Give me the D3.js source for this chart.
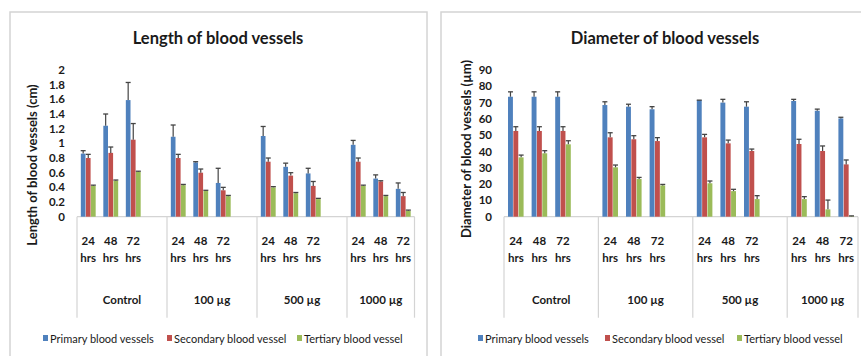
<!DOCTYPE html>
<html><head><meta charset="utf-8">
<script src="https://cdn.jsdelivr.net/npm/d3@7"></script>
<style>body{margin:0;background:#fff}svg{display:block}text{font-family:Lato,"Noto Sans",sans-serif;fill:#1a1a1a}</style>
</head><body><svg id="c" width="861" height="356"></svg>
<script>
const groups = ["Control", "100 µg", "500 µg", "1000 µg"];
const times = ["24", "48", "72"];
const series = ["Primary blood vessels", "Secondary blood vessel", "Tertiary blood vessel"];
const colors = ["#4F81BD", "#C0504D", "#9BBB59"];

const lengthTicks = [0, 0.2, 0.4, 0.6, 0.8, 1, 1.2, 1.4, 1.6, 1.8, 2];
const lengthPrimary   = [0.86, 1.24, 1.59, 1.09, 0.74, 0.46, 1.10, 0.68, 0.59, 0.98, 0.52, 0.38];
const lengthPrimaryErr= [0.04, 0.16, 0.24, 0.16, 0.01, 0.20, 0.13, 0.05, 0.07, 0.06, 0.05, 0.08];
const lengthSecondary = [0.80, 0.87, 1.05, 0.80, 0.60, 0.36, 0.75, 0.56, 0.42, 0.75, 0.48, 0.28];
const lengthSecondaryErr=[0.05, 0.08, 0.22, 0.05, 0.05, 0.04, 0.05, 0.04, 0.06, 0.05, 0.01, 0.05];
const lengthTertiary  = [0.42, 0.49, 0.61, 0.43, 0.35, 0.28, 0.40, 0.32, 0.24, 0.42, 0.28, 0.08];
const lengthTertiaryErr=[0.01, 0.01, 0.01, 0.01, 0.01, 0.01, 0.01, 0.01, 0.01, 0.01, 0.01, 0.01];

const diamTicks = [0, 10, 20, 30, 40, 50, 60, 70, 80, 90];
const diamPrimary   = [73.6, 73.6, 73.6, 68.5, 67.5, 65.9, 71.5, 70.0, 67.5, 71.0, 65.0, 60.3];
const diamPrimaryErr= [3.0, 3.0, 3.0, 2.0, 1.5, 1.6, 0.0, 2.0, 3.0, 1.0, 1.0, 0.7];
const diamSecondary = [52.6, 52.6, 52.6, 48.7, 47.5, 46.4, 48.7, 45.0, 40.3, 44.6, 40.3, 32.1];
const diamSecondaryErr=[2.6, 2.6, 2.6, 2.8, 2.2, 2.1, 1.8, 2.0, 1.2, 2.9, 3.1, 2.7];
const diamTertiary  = [36.4, 38.9, 44.4, 30.3, 23.1, 19.2, 20.5, 15.7, 10.8, 10.8, 4.5, 0.3];
const diamTertiaryErr=[1.4, 1.6, 2.2, 1.4, 1.0, 0.6, 1.4, 1.1, 2.1, 1.5, 5.7, 0.2];

const svg = d3.select("#c");

function drawChart(cfg) {
  const g = svg.append("g");
  // panel border
  g.append("rect").attr("x", cfg.panel[0]).attr("y", cfg.panel[1]).attr("width", cfg.panel[2]).attr("height", cfg.panel[3])
    .attr("fill", "#fff").attr("stroke", "#d4d4d4").attr("stroke-width", 1.5);
  g.append("text").attr("x", cfg.titleX).attr("y", 44).attr("text-anchor", "middle")
    .style("font-size", "16.5px").style("font-weight", "bold").text(cfg.title);

  // slots: each group has 3 time slots + one blank slot (except the last)
  const slots = [];
  groups.forEach((gr, gi) => {
    times.forEach((t, ti) => slots.push({id: gi + "-" + t, group: gi, time: t, idx: gi * 3 + ti}));
    if (gi < groups.length - 1) slots.push({id: gi + "-blank", group: gi, blank: true});
  });
  const x = d3.scaleBand().domain(slots.map(s => s.id)).range([cfg.x0, cfg.x1]).padding(0);
  const y = d3.scaleLinear().domain([0, d3.max(cfg.ticks)]).range([216.7, 70]);
  const inner = d3.scaleBand().domain(series).range([0, x.bandwidth() * 0.66]).paddingInner(0.08);
  const off = x.bandwidth() * 0.17;

  // y tick labels
  g.selectAll(".yt").data(cfg.ticks).join("text")
    .attr("x", cfg.x0 - 12).attr("y", d => y(d)).attr("dy", "0.35em").attr("text-anchor", "end")
    .style("font-size", "11.5px").style("font-weight", "bold").text(d => d);
  // y title
  g.append("text").attr("transform", `translate(${cfg.ytX},${cfg.ytY}) rotate(-90)`).attr("text-anchor", "middle")
    .style("font-size", "13px").style("font-weight", "bold").text(cfg.yTitle);

  // category axis
  const axc = "#d4d4d4";
  g.append("line").attr("x1", cfg.x0).attr("x2", cfg.x1).attr("y1", y(0)).attr("y2", y(0)).attr("stroke", axc).attr("stroke-width", 1.2);
  const bounds = [cfg.x0];
  groups.forEach((gr, gi) => {
    const last = slots.filter(s => s.group === gi);
    bounds.push(x(last[last.length - 1].id) + x.bandwidth());
  });
  g.selectAll(".sep").data(bounds).join("line").attr("x1", d => d).attr("x2", d => d)
    .attr("y1", y(0)).attr("y2", y(0) + 101).attr("stroke", axc).attr("stroke-width", 1.2);
  const real = slots.filter(s => !s.blank);
  g.selectAll(".t1").data(real).join("text").attr("x", s => x(s.id) + x.bandwidth() / 2).attr("y", 245)
    .attr("text-anchor", "middle").style("font-size", "11.5px").style("font-weight", "bold").text(s => s.time);
  g.selectAll(".t2").data(real).join("text").attr("x", s => x(s.id) + x.bandwidth() / 2).attr("y", 262)
    .attr("text-anchor", "middle").style("font-size", "11.5px").style("font-weight", "bold").text("hrs");
  g.selectAll(".gl").data(groups).join("text").attr("x", (d, i) => (bounds[i] + bounds[i + 1]) / 2).attr("y", 304)
    .attr("text-anchor", "middle").style("font-size", "11.5px").style("font-weight", "bold").text(d => d);

  // bars
  const vals = cfg.values, errs = cfg.errors;
  series.forEach((s, si) => {
    const sg = g.append("g");
    real.forEach(sl => {
      const v = vals[si][sl.idx], e = errs[si][sl.idx];
      const bx = x(sl.id) + off + inner(s);
      sg.append("rect").attr("x", bx).attr("y", y(v)).attr("width", inner.bandwidth()).attr("height", y(0) - y(v)).attr("fill", colors[si]);
      const cx = bx + inner.bandwidth() / 2;
      if (e > 0) {
        sg.append("line").attr("x1", cx).attr("x2", cx).attr("y1", y(v)).attr("y2", y(v + e)).attr("stroke", "#444").attr("stroke-width", 1.2);
      }
      sg.append("line").attr("x1", cx - 2.5).attr("x2", cx + 2.5).attr("y1", y(v + e)).attr("y2", y(v + e)).attr("stroke", "#444").attr("stroke-width", 1.3);
    });
  });

  // legend
  const lg = g.append("g");
  series.forEach((s, si) => {
    lg.append("rect").attr("x", cfg.legX[si]).attr("y", 335).attr("width", 5).attr("height", 6).attr("fill", colors[si]);
    lg.append("text").attr("x", cfg.legX[si] + 7).attr("y", 339).attr("dy", "0.35em").style("font-size", "11px").text(s);
  });
}

drawChart({
  panel: [10, 12, 417, 360], title: "Length of blood vessels", titleX: 218,
  x0: 77, x1: 414.5, ticks: lengthTicks, yTitle: "Length of blood vessels (cm)", ytX: 37, ytY: 165,
  values: [lengthPrimary, lengthSecondary, lengthTertiary], errors: [lengthPrimaryErr, lengthSecondaryErr, lengthTertiaryErr],
  legX: [43, 167, 297]
});
drawChart({
  panel: [441, 12, 440, 360], title: "Diameter of blood vessels", titleX: 665,
  x0: 504, x1: 858, ticks: diamTicks, yTitle: "Diameter of blood vessels (µm)", ytX: 471, ytY: 149,
  values: [diamPrimary, diamSecondary, diamTertiary], errors: [diamPrimaryErr, diamSecondaryErr, diamTertiaryErr],
  legX: [478, 605, 737]
});
</script></body></html>
